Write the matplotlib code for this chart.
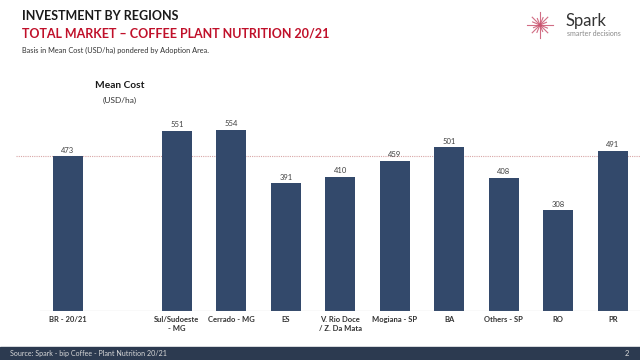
import matplotlib
matplotlib.use("Agg")
import matplotlib.pyplot as plt
import numpy as np
from matplotlib.patches import Rectangle
from matplotlib.lines import Line2D

plt.rcParams['font.family'] = ['Lato', 'DejaVu Sans']

regions = ['BR - 20/21', 'Sul/Sudoeste\n- MG', 'Cerrado - MG', 'ES', 'V. Rio Doce\n/ Z. Da Mata',
           'Mogiana - SP', 'BA', 'Others - SP', 'RO', 'PR']
positions = [0, 2, 3, 4, 5, 6, 7, 8, 9, 10]
mean_cost = [473, 551, 554, 391, 410, 459, 501, 408, 308, 491]
reference = 473

W, H = 640, 360
fig = plt.figure(figsize=(6.4, 3.6), dpi=100)
fig.patch.set_facecolor('white')

# axes placed in pixel terms
left_px, right_px, bottom_px, top_px = 16, 640, 311, 115
ax = fig.add_axes([left_px / W, 1 - bottom_px / H, (right_px - left_px) / W, (bottom_px - top_px) / H])
ax.set_xlim(-0.954, 10.5)
ax.set_ylim(0, 600)

bar_color = '#33496b'
ax.bar(positions, mean_cost, width=0.55, color=bar_color, zorder=3)
for x, v in zip(positions, mean_cost):
    ax.text(x, v + 8, str(v), ha='center', va='bottom', fontsize=5.5, color='#404040')

ax.axhline(reference, color='#d8a6a6', linestyle=(0, (1, 1)), linewidth=0.8, zorder=1)
ax.axhline(0, xmin=(40 - left_px) / (right_px - left_px), xmax=1, color='#9a9a9a', linewidth=0.8, zorder=4)

for s in ax.spines.values():
    s.set_visible(False)
ax.set_yticks([])
ax.set_xticks(positions)
ax.set_xticklabels(regions, fontsize=5.5, fontweight='bold', color='#333333', linespacing=1.3)
ax.tick_params(axis='x', length=0, pad=3.5)

# headers
fig.text(22 / W, 1 - 16 / H, 'INVESTMENT BY REGIONS', fontsize=9, fontweight='bold',
         color='#1a1a1a', va='center')
fig.text(22 / W, 1 - 33 / H, 'TOTAL MARKET \u2013 COFFEE PLANT NUTRITION 20/21', fontsize=9,
         fontweight='bold', color='#c0102a', va='center')
fig.text(22 / W, 1 - 50 / H, 'Basis in Mean Cost (USD/ha) pondered by Adoption Area.', fontsize=5.3,
         color='#333333', va='center')
fig.text(120 / W, 1 - 86 / H, 'Mean Cost', fontsize=7.3, fontweight='bold', color='#1a1a1a',
         ha='center', va='center')
fig.text(120 / W, 1 - 100 / H, '(USD/ha)', fontsize=6, color='#333333', ha='center', va='center')

# logo
cx, cy = 540, 25
angles = np.linspace(0, 2 * np.pi, 16, endpoint=False)
lengths = [13, 8, 11, 7, 13, 8, 11, 7, 13, 8, 11, 7, 13, 8, 11, 7]
for a, r in zip(angles, lengths):
    fig.add_artist(Line2D([cx / W, (cx + r * np.cos(a)) / W],
                          [1 - cy / H, 1 - (cy + r * np.sin(a)) / H],
                          color='#c9536e', linewidth=0.8, alpha=0.85))
fig.text(566 / W, 1 - 21 / H, 'Spark', fontsize=12, color='#333333', va='center')
fig.text(567 / W, 1 - 34 / H, 'smarter decisions', fontsize=5, color='#888888', va='center')

# footer
fig.add_artist(Rectangle((0, 0), 1, 13 / H, transform=fig.transFigure, color='#2c3a50', zorder=0))
fig.text(10 / W, 6.5 / H, 'Source: Spark - bip Coffee - Plant Nutrition 20/21', fontsize=5.1,
         color='#d8d8d8', va='center')
fig.text(627 / W, 6.5 / H, '2', fontsize=5.5, color='#d8d8d8', va='center', ha='center')

fig.savefig('out.png', dpi=100)
